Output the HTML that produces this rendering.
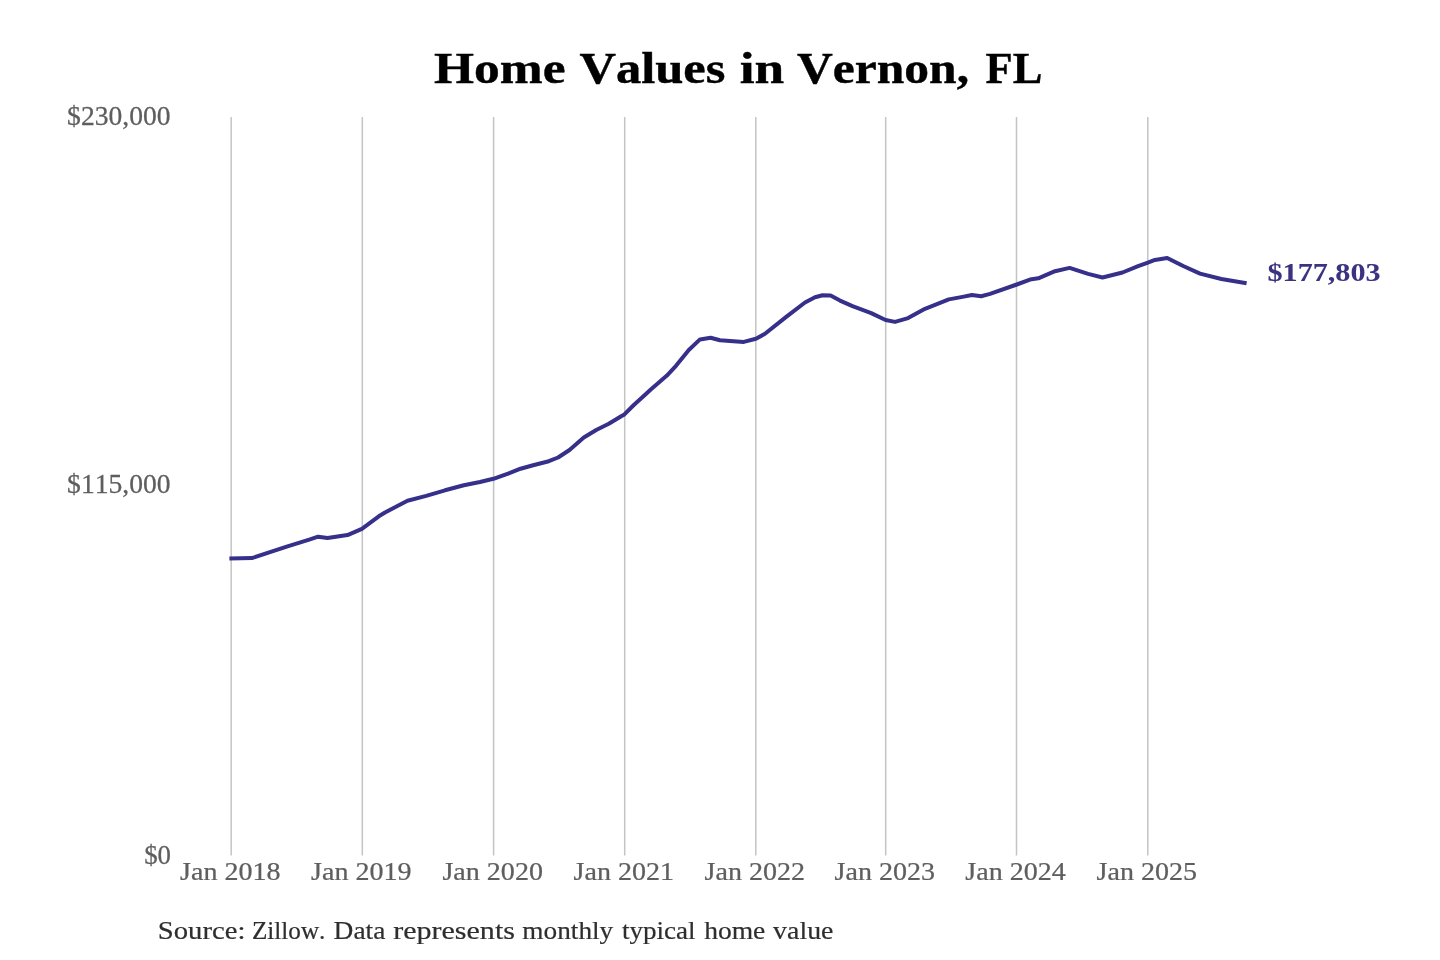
<!DOCTYPE html>
<html><head><meta charset="utf-8"><style>
html,body{margin:0;padding:0;background:#fff;}
svg{display:block;will-change:transform;}
text{font-family:"Liberation Serif",serif;font-kerning:none;}
.ttl{fill:#000;stroke:#000;stroke-width:0.4px;font-weight:bold;}
.lab{fill:#5e5e5e;stroke:#5e5e5e;stroke-width:0.25px;}
.src{fill:#2e2e2e;stroke:#2e2e2e;stroke-width:0.2px;}
.val{fill:#3a3480;stroke:#3a3480;stroke-width:0.05px;font-weight:bold;}
</style></head><body>
<svg width="1440" height="960" viewBox="0 0 1440 960">
<rect width="1440" height="960" fill="#fff"/>
<g stroke="#c4c4c4" stroke-width="1.5"><line x1="231.2" y1="117" x2="231.2" y2="855.5"/><line x1="362.3" y1="117" x2="362.3" y2="855.5"/><line x1="493.6" y1="117" x2="493.6" y2="855.5"/><line x1="624.7" y1="117" x2="624.7" y2="855.5"/><line x1="755.8" y1="117" x2="755.8" y2="855.5"/><line x1="885.7" y1="117" x2="885.7" y2="855.5"/><line x1="1016.5" y1="117" x2="1016.5" y2="855.5"/><line x1="1147.8" y1="117" x2="1147.8" y2="855.5"/></g>
<polyline points="229.4,558.4 251.9,558.1 287.5,546.3 310.0,539.4 318.1,536.7 327.5,538.1 347.5,535.1 361.9,528.8 378.8,516.3 385.0,512.5 395.0,507.2 407.5,500.7 426.2,495.9 445.0,490.3 463.8,485.2 480.0,482.0 493.4,478.8 508.1,473.7 520.6,468.7 533.1,465.2 548.8,461.2 558.1,457.5 569.5,450.0 583.8,437.5 596.2,430.0 608.8,423.8 621.2,416.2 624.4,414.4 633.8,405.0 646.2,393.8 650.5,389.8 666.9,375.6 676.2,365.6 688.8,350.0 700.0,339.4 710.6,337.8 720.0,340.3 730.0,340.9 743.8,341.9 755.9,338.8 765.0,333.8 786.2,316.9 805.0,302.5 815.0,297.3 822.5,295.3 830.6,295.6 840.0,300.6 852.5,306.2 871.2,313.1 885.6,320.0 895.0,321.9 908.1,318.1 925.0,308.8 948.8,299.4 962.5,296.9 971.9,295.0 981.2,296.2 990.0,293.9 1016.8,284.5 1030.0,279.6 1038.3,278.3 1055.0,271.2 1069.6,267.9 1088.1,273.9 1102.5,277.5 1122.5,272.5 1138.1,266.2 1147.9,262.6 1154.9,259.9 1167.2,258.0 1183.2,266.0 1200.0,273.6 1221.4,279.0 1246.6,283.3" fill="none" stroke="#36308a" stroke-width="4" stroke-linejoin="round" stroke-linecap="butt"/>
<text class="ttl" transform="translate(434.12,83.00) scale(1.1825,1)" font-size="43.50">Home</text>
<text class="ttl" transform="translate(579.43,83.00) scale(1.1617,1)" font-size="43.50">Values</text>
<text class="ttl" transform="translate(739.63,83.00) scale(1.2261,1)" font-size="43.50">in</text>
<text class="ttl" transform="translate(797.04,83.00) scale(1.1391,1)" font-size="43.50">Vernon,</text>
<text class="ttl" transform="translate(985.54,83.00) scale(1.0223,1)" font-size="43.50">FL</text>
<text class="lab" transform="translate(67.11,124.60) scale(1.0458,1)" font-size="26.40">$230,000</text>
<text class="lab" transform="translate(67.11,492.70) scale(1.0458,1)" font-size="26.40">$115,000</text>
<text class="lab" transform="translate(144.15,864.00) scale(1.0181,1)" font-size="26.40">$0</text>
<text class="lab" transform="translate(180.01,879.7) scale(1.0794,1)" font-size="26">Jan 2018</text>
<text class="lab" transform="translate(311.11,879.7) scale(1.0794,1)" font-size="26">Jan 2019</text>
<text class="lab" transform="translate(442.41,879.7) scale(1.0794,1)" font-size="26">Jan 2020</text>
<text class="lab" transform="translate(573.51,879.7) scale(1.0794,1)" font-size="26">Jan 2021</text>
<text class="lab" transform="translate(704.61,879.7) scale(1.0794,1)" font-size="26">Jan 2022</text>
<text class="lab" transform="translate(834.51,879.7) scale(1.0794,1)" font-size="26">Jan 2023</text>
<text class="lab" transform="translate(965.31,879.7) scale(1.0794,1)" font-size="26">Jan 2024</text>
<text class="lab" transform="translate(1096.61,879.7) scale(1.0794,1)" font-size="26">Jan 2025</text>
<text class="src" transform="translate(157.83,938.75) scale(1.1334,1)" font-size="25.30">Source:</text>
<text class="src" transform="translate(251.89,938.75) scale(0.9963,1)" font-size="25.30">Zillow.</text>
<text class="src" transform="translate(333.61,938.75) scale(1.0839,1)" font-size="25.30">Data</text>
<text class="src" transform="translate(393.15,938.75) scale(1.1880,1)" font-size="25.30">represents</text>
<text class="src" transform="translate(522.33,938.75) scale(1.0788,1)" font-size="25.30">monthly</text>
<text class="src" transform="translate(621.94,938.75) scale(1.0706,1)" font-size="25.30">typical</text>
<text class="src" transform="translate(704.13,938.75) scale(1.0892,1)" font-size="25.30">home</text>
<text class="src" transform="translate(773.10,938.75) scale(1.1018,1)" font-size="25.30">value</text>
<text class="val" transform="translate(1267.52,281.20) scale(1.1601,1)" font-size="26.00">$177,803</text>
</svg>
</body></html>
